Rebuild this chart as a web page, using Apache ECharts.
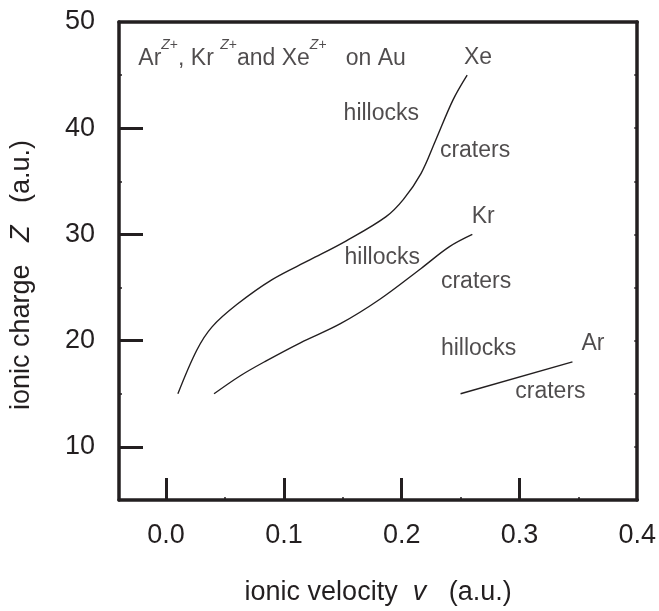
<!DOCTYPE html>
<html><head><meta charset="utf-8">
<script src="https://cdn.jsdelivr.net/npm/echarts@6/dist/echarts.min.js"></script>
<style>html,body{margin:0;padding:0;background:#fff}#c{width:659px;height:611px}</style>
</head><body><div id="c"></div>
<script>
// tick values
const xTickLabels = [0, 0.1, 0.2, 0.3, 0.4];
const xMajorTicks = [0, 0.1, 0.2, 0.3];
const xMinorTicks = [0.05, 0.15, 0.25, 0.35];
const yTickLabels = [10, 20, 30, 40, 50];
const yMajorTicks = [10, 20, 30, 40];
const yMinorTicks = [15, 25, 35, 45];
const yRightTicks = [10, 15, 20, 25, 30, 35, 40, 45];
// boundary curves [v, Z]
const xeCurve = [[0.010,15.0],[0.026,19.1],[0.039,21.3],[0.060,23.4],[0.090,25.75],[0.122,27.6],[0.153,29.4],[0.1865,31.65],[0.2015,33.3],[0.2165,35.75],[0.2286,38.8],[0.2436,42.67],[0.2556,45.0]];
const krCurve = [[0.0407,15.0],[0.063,16.7],[0.085,18.1],[0.114,19.8],[0.148,21.6],[0.1815,23.9],[0.2165,26.8],[0.2406,28.85],[0.260,30.0]];
const arCurve = [[0.25,15.0],[0.345,18.0]];
// region labels [v, Z, text]
const regionLabels = [
  [0.2648, 46.6, 'Xe'],
  [0.1827, 41.4, 'hillocks'],
  [0.2623, 37.9, 'craters'],
  [0.2692, 31.65, 'Kr'],
  [0.1835, 27.83, 'hillocks'],
  [0.2632, 25.6, 'craters'],
  [0.2653, 19.22, 'hillocks'],
  [0.3624, 19.69, 'Ar'],
  [0.3263, 15.19, 'craters']
];
const headerAnchor = [-0.0236, 47.0];

const FONT = '"Liberation Sans", Arial, Helvetica, sans-serif';
const INK = '#231f20';
const chart = echarts.init(document.getElementById('c'));

const xBase = {type:'value', min:-0.04, max:0.4, splitLine:{show:false}};
const yBase = {type:'value', min:5, max:50, splitLine:{show:false}};
const frameLine = {show:true, onZero:false, lineStyle:{color:INK, width:3.5}};
const noLine = {show:false, onZero:false};

const curveSeries = (name, data) => ({
  name, type:'line', data, smooth:0.35, symbol:'none', silent:true,
  lineStyle:{color:INK, width:1.4}, xAxisIndex:0, yAxisIndex:0
});

chart.setOption({
  animation:false,
  backgroundColor:'#fff',
  grid:{left:117, right:20, top:22, bottom:107, containLabel:false},
  xAxis:[
    Object.assign({}, xBase, {
      position:'bottom', axisLine:frameLine,
      axisTick:{show:true, inside:true, length:22, customValues:xMajorTicks, lineStyle:{color:INK, width:3}},
      axisLabel:{customValues:xTickLabels, formatter:v=>v.toFixed(1), fontSize:27, fontFamily:FONT, color:INK, margin:22},
      name:'ionic velocity  {i|v}   (a.u.)', nameLocation:'middle', nameGap:79,
      nameTextStyle:{fontSize:27, fontFamily:FONT, color:INK,
        rich:{i:{fontStyle:'italic', fontSize:27, fontFamily:FONT, color:INK}}}
    }),
    Object.assign({}, xBase, {
      position:'bottom', axisLine:noLine,
      axisTick:{show:true, inside:true, length:3, customValues:xMinorTicks, lineStyle:{color:INK, width:1.5}},
      axisLabel:{show:false}
    }),
    Object.assign({}, xBase, {
      position:'top', axisLine:frameLine,
      axisTick:{show:false}, axisLabel:{show:false}
    })
  ],
  yAxis:[
    Object.assign({}, yBase, {
      position:'left', axisLine:frameLine,
      axisTick:{show:true, inside:true, length:24, customValues:yMajorTicks, lineStyle:{color:INK, width:3}},
      axisLabel:{customValues:yTickLabels, fontSize:27, fontFamily:FONT, color:INK, margin:24},
      name:'ionic charge   {i|Z}   (a.u.)', nameLocation:'middle', nameGap:84, nameRotate:90,
      nameTextStyle:{fontSize:27, fontFamily:FONT, color:INK, padding:[0, 28, 0, 0],
        rich:{i:{fontStyle:'italic', fontSize:27, fontFamily:FONT, color:INK}}}
    }),
    Object.assign({}, yBase, {
      position:'left', axisLine:noLine,
      axisTick:{show:true, inside:true, length:3, customValues:yMinorTicks, lineStyle:{color:INK, width:1.5}},
      axisLabel:{show:false}
    }),
    Object.assign({}, yBase, {
      position:'right', axisLine:frameLine,
      axisTick:{show:true, inside:true, length:3, customValues:yRightTicks, lineStyle:{color:INK, width:1.5}},
      axisLabel:{show:false}
    })
  ],
  series:[
    curveSeries('Xe', xeCurve),
    curveSeries('Kr', krCurve),
    curveSeries('Ar', arCurve),
    {
      type:'scatter', symbolSize:0, silent:true, xAxisIndex:0, yAxisIndex:0,
      itemStyle:{color:INK},
      data: regionLabels.map(d => ({value:[d[0], d[1]], label:{formatter:d[2]}})),
      label:{show:true, position:[0,0], align:'center', verticalAlign:'middle',
        fontSize:23, fontFamily:FONT, color:INK, textBorderWidth:0}
    },
    {
      type:'scatter', symbolSize:0, silent:true, xAxisIndex:0, yAxisIndex:0,
      itemStyle:{color:INK},
      data:[{value:headerAnchor}],
      label:{show:true, position:[0,0], align:'left', verticalAlign:'middle', textBorderWidth:0,
        formatter:'{m|Ar}{si|Z}{s|+}{m|, Kr }{si|Z}{s|+}{m|and Xe}{si|Z}{s|+}{m|   on Au}',
        rich:{
          m:{fontSize:23, fontFamily:FONT, color:INK, lineHeight:32, verticalAlign:'bottom'},
          s:{fontSize:14, fontFamily:FONT, color:INK, lineHeight:14, verticalAlign:'top'},
          si:{fontSize:14, fontFamily:FONT, color:INK, lineHeight:14, verticalAlign:'top', fontStyle:'italic'}
        }}
    }
  ]
});
</script></body></html>
